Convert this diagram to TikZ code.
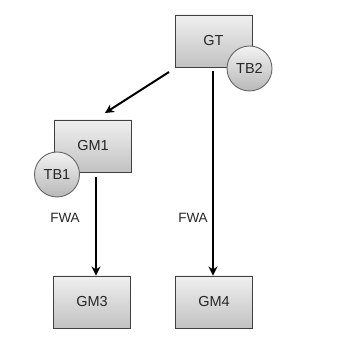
\documentclass[tikz,border=0pt]{standalone}
\usepackage{fontspec}
\setmainfont{Liberation Sans}
\usetikzlibrary{arrows.meta}
\begin{document}
\begin{tikzpicture}[x=1pt,y=-1pt,
  box/.style={draw=black!75, line width=0.9pt, top color=black!6, bottom color=black!24, minimum width=77pt, minimum height=52pt, inner sep=0pt, font=\fontsize{14.5}{16}\selectfont, text=black!85},
  badge/.style={circle, draw=black!60, line width=0.9pt, top color=black!5, bottom color=black!28, minimum size=45pt, inner sep=0pt, font=\fontsize{14.5}{16}\selectfont, text=black!85},
  lbl/.style={font=\fontsize{13.5}{16}\selectfont, text=black!85, inner sep=0pt},
  arr/.style={line width=2pt, -{Stealth[length=9pt,width=9pt]}}]
\useasboundingbox (0,0) rectangle (348,344);
\node[box] (GT) at (213.5,41) {GT};
\node[badge] (TB2) at (249.5,68.5) {TB2};
\node[box] (GM1) at (93,146) {GM1};
\node[badge] (TB1) at (57,174.5) {TB1};
\node[box] (GM3) at (92,302) {GM3};
\node[box] (GM4) at (214,302) {GM4};
\node[lbl] (FWA1) at (65,218) {FWA};
\node[lbl] (FWA2) at (193,218) {FWA};
\coordinate (s1) at (169,72);
\coordinate (e1) at (105,113);
\coordinate (s2) at (213,71);
\coordinate (s3) at (96,177);
\draw[arr] (s1) -- (e1);
\draw[arr] (s2) -- (s2 |- GM4.north);
\draw[arr] (s3) -- (s3 |- GM3.north);
\end{tikzpicture}
\end{document}
